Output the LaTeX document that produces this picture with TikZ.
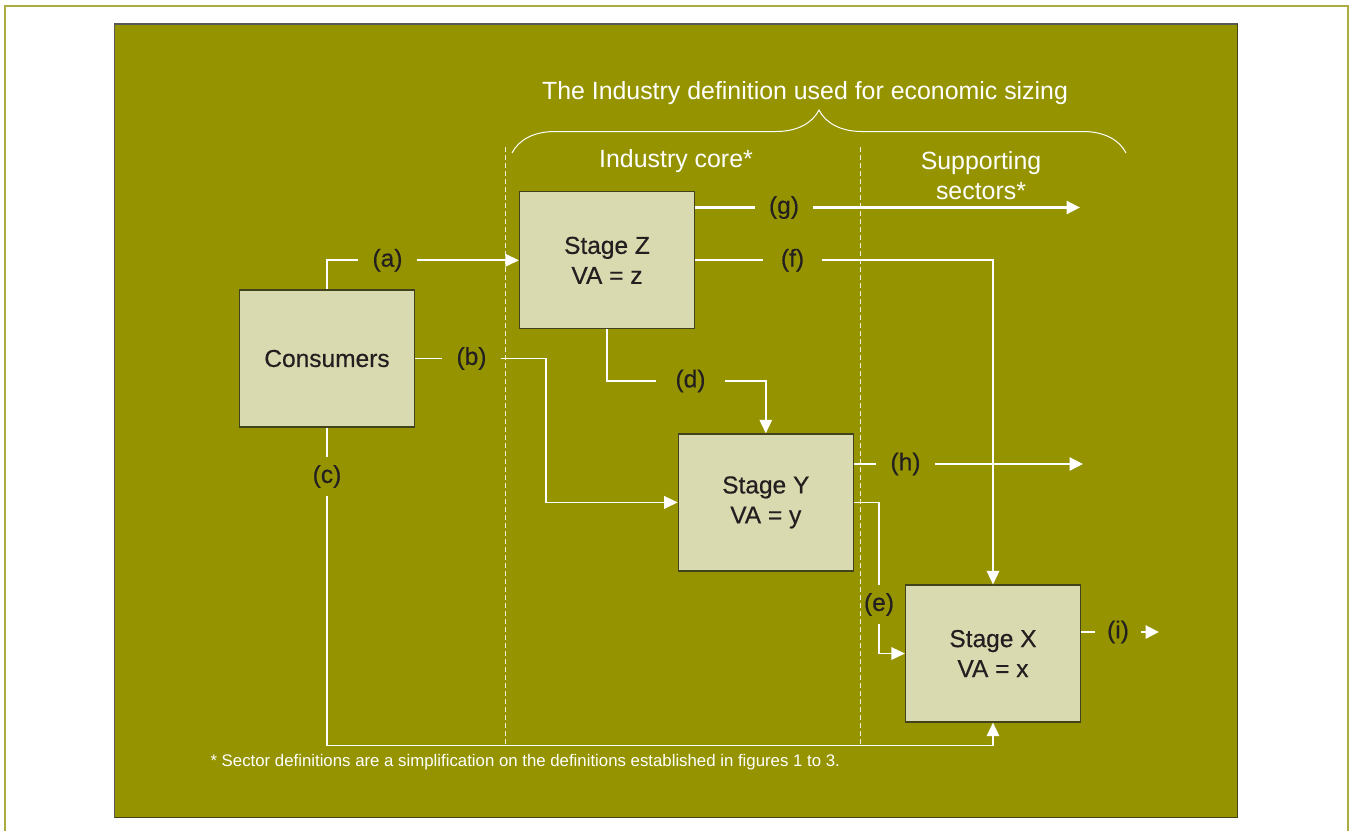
\documentclass[tikz,border=0pt]{standalone}
\usepackage{fontspec}
\setmainfont{Liberation Sans}
\newfontfamily\inkfont[FakeBold=0.5]{Liberation Sans}
\usepackage{tikz}
\usetikzlibrary{arrows.meta,decorations.pathreplacing}

\definecolor{panel}{RGB}{149,148,0}
\definecolor{boxfill}{RGB}{218,218,176}
\definecolor{boxedge}{RGB}{66,66,28}
\definecolor{ink}{RGB}{35,31,32}
\definecolor{rim}{RGB}{172,172,64}

\begin{document}
\begin{tikzpicture}[x=1pt,y=-1pt,>={Triangle[length=13.5pt,width=12.5pt]},
	wire/.style={white,line width=1.7pt},
	fatwire/.style={white,line width=2.8pt},
	stage/.style={draw=boxedge,fill=boxfill,line width=1.2pt,text=ink,
		minimum width=175pt,minimum height=137pt,inner sep=0pt,align=center,
		font=\inkfont\fontsize{24.5}{30}\selectfont},
	lbl/.style={text=ink,font=\inkfont\fontsize{24.5}{29}\selectfont,inner sep=0pt,
		minimum width=58pt,minimum height=38pt},
	head/.style={white,font=\fontsize{24.9}{30}\selectfont,align=center}]

	\useasboundingbox (0,0) rectangle (1351,831);

	% frame and panel
	\draw[rim,line width=1.5pt] (5,831) -- (5,6) -- (1348,6) -- (1348,831);
	\fill[panel] (114.5,24) rectangle (1237.5,817.5);
	\draw[gray!70!black,line width=1.2pt] (114.5,817.5) -- (114.5,24) -- (1237.5,24);
	\draw[boxedge,line width=1.4pt] (1237.5,24) -- (1237.5,817.5) -- (114.5,817.5);

	% sector dividers
	\draw[white!85!panel,line width=0.9pt,dash pattern=on 5pt off 3pt] (505.5,147) -- (505.5,745);
	\draw[white!85!panel,line width=0.9pt,dash pattern=on 5pt off 3pt] (860.5,147) -- (860.5,745);

	\node[head] (title) at (805,93) {The Industry definition used for economic sizing};
	\draw[white,line width=1pt,decorate,decoration={brace,amplitude=43pt}] (512,153) -- (1126,153);
	\node[head] (core) at (676,161) {Industry core*};
	\node[head] (supp) at (981,176) {Supporting\\sectors*};

	% stages
	\node[stage] (cons) at (327,358.5) {Consumers};
	\node[stage] (stZ) at (607,260.3) {Stage Z\\VA = z};
	\node[stage] (stY) at (765.8,502.4) {Stage Y\\VA = y};
	\node[stage] (stX) at (993,653.5) {Stage X\\VA = x};

	% flow labels
	\node[lbl] (la) at (387.5,260.3) {(a)};
	\node[lbl] (lb) at (471.5,358.5) {(b)};
	\node[lbl] (lc) at (327,476.5) {(c)};
	\node[lbl,minimum width=68pt] (ld) at (690.5,381) {(d)};
	\node[lbl] (le) at (879,604.5) {(e)};
	\node[lbl] (lf) at (792.5,260.3) {(f)};
	\node[lbl] (lg) at (784,207.5) {(g)};
	\node[lbl] (lh) at (905.5,464) {(h)};
	\node[lbl,minimum width=46pt] (li) at (1118,632) {(i)};

	\coordinate (gout) at (1080,207.5);
	\coordinate (hout) at (1083,464);
	\coordinate (iout) at (1159,632);

	% flows
	\draw[wire] (cons.north) |- (la.west);
	\draw[wire,->] (la.east) -- (stZ.west);

	\draw[wire] (cons.east) -- (lb.west);
	\draw[wire,->] (lb.east) -- ++(45.5,0) |- (stY.west);

	\draw[wire] (cons.south) -- (lc.north);
	\draw[wire,->] (lc.south) |- ([yshift=-23pt]stX.south) -- (stX.south);

	\draw[wire] (stZ.south) |- (ld.west);
	\draw[wire,->] (ld.east) -| (stY.north);

	\draw[wire] (stY.east) -| (le.north);
	\draw[wire,->] (le.south) |- (stX.west);

	\draw[wire] (stZ.east) -- (lf.west);
	\draw[wire,->] (lf.east) -| (stX.north);

	\draw[fatwire] (stZ.east |- lg) -- (lg.west);
	\draw[fatwire,-{Triangle[length=13.5pt,width=13pt]}] (lg.east) -- (gout);

	\draw[fatwire] (stY.east |- lh) -- (lh.west);
	\draw[fatwire,-{Triangle[length=13.5pt,width=13pt]}] (lh.east) -- (hout);

	\draw[fatwire] (stX.east |- li) -- (li.west);
	\draw[fatwire,-{Triangle[length=13.5pt,width=13pt]}] (li.east) -- (iout);

	\node[white,font=\fontsize{16.8}{19}\selectfont,anchor=west] (note) at (207,762)
		{* Sector definitions are a simplification on the definitions established in figures 1 to 3.};

\end{tikzpicture}
\end{document}
